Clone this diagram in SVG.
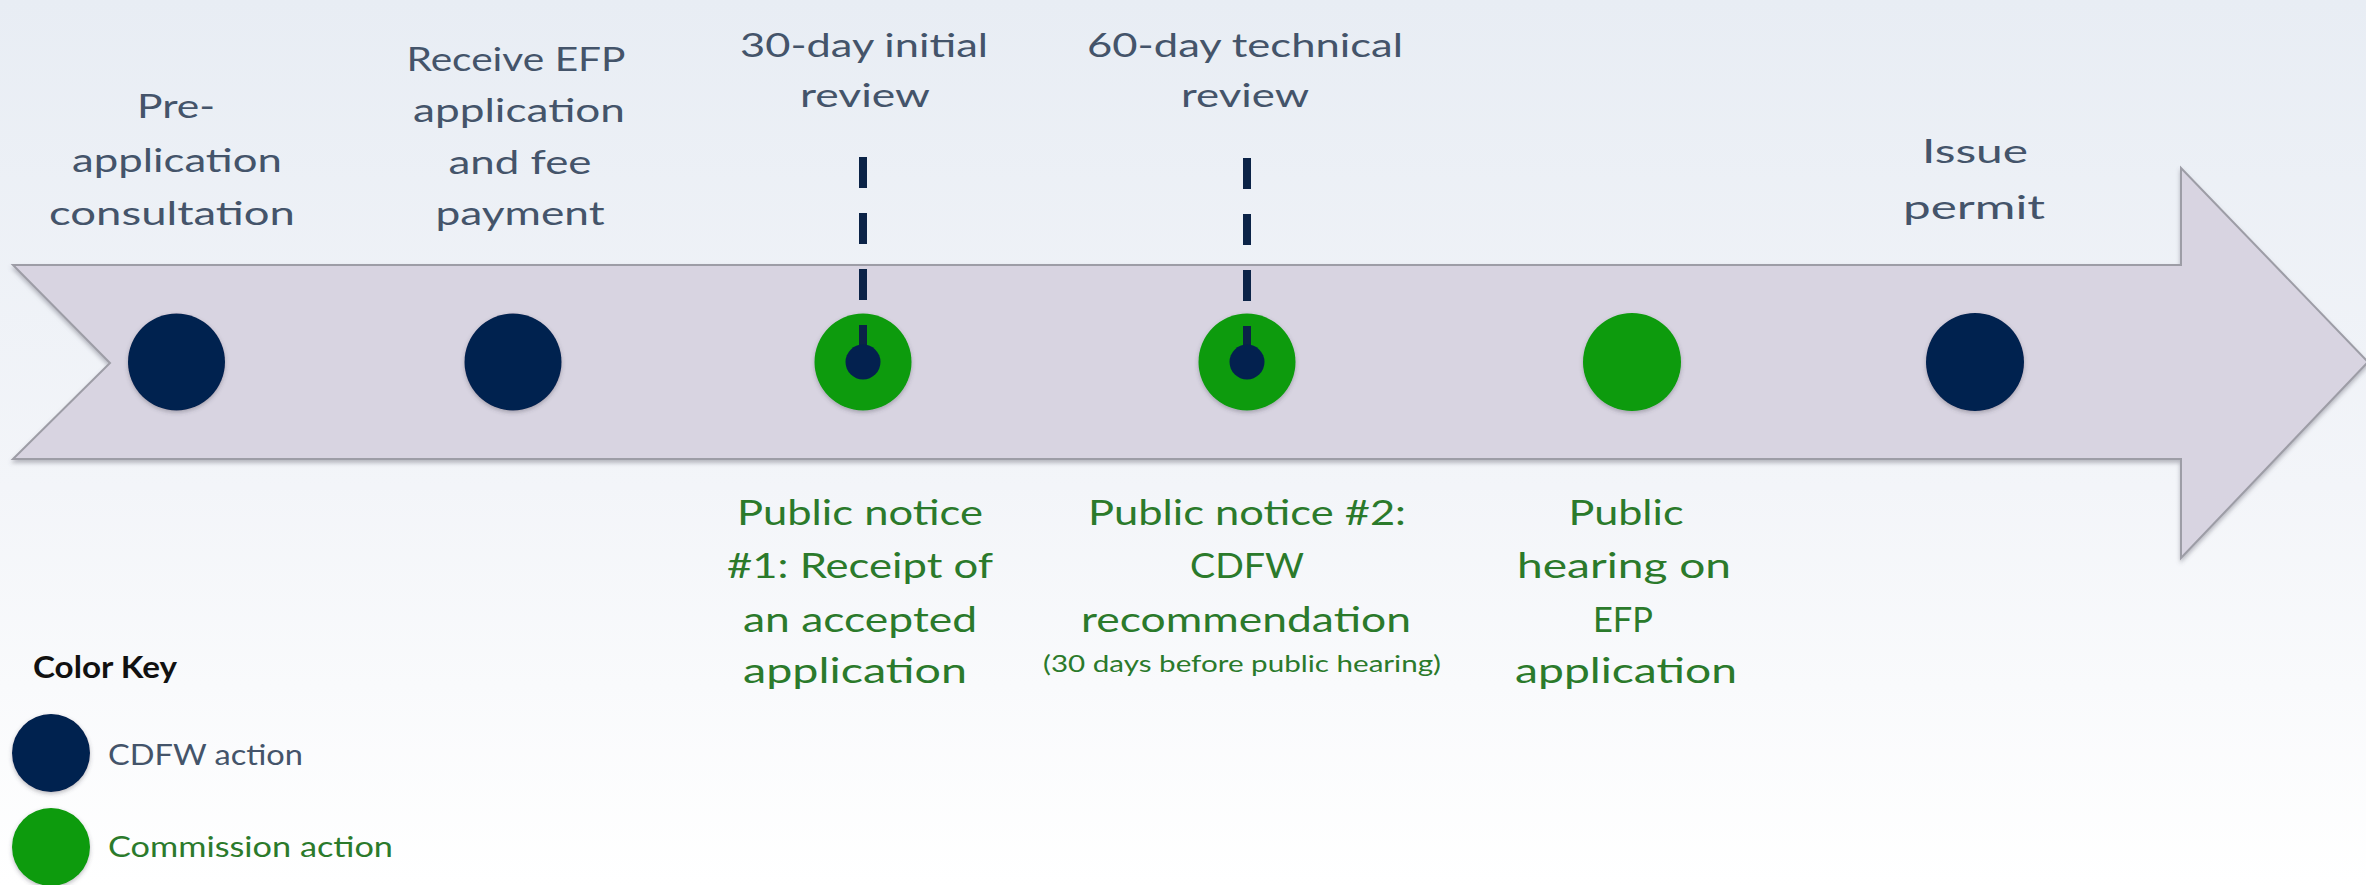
<svg xmlns="http://www.w3.org/2000/svg" width="2366" height="885" viewBox="0 0 2366 885">
  <defs>
    <linearGradient id="bg" x1="0" y1="0" x2="0" y2="1">
      <stop offset="0" stop-color="#e8edf4"/>
      <stop offset="0.55" stop-color="#f3f5f9"/>
      <stop offset="1" stop-color="#ffffff"/>
    </linearGradient>
    <filter id="arrowShadow" x="-5%" y="-20%" width="110%" height="140%">
      <feDropShadow dx="0" dy="3" stdDeviation="2" flood-color="#6b6b78" flood-opacity="0.45"/>
    </filter>
    <filter id="dotShadow" x="-30%" y="-30%" width="160%" height="170%">
      <feDropShadow dx="0" dy="2" stdDeviation="2" flood-color="#404050" flood-opacity="0.35"/>
    </filter>
  </defs>
  <style>
    text { font-family: Lato, "Liberation Sans", sans-serif; text-anchor: middle; }
    .top { font-size: 32.5px; fill: #44546a; }
    .grn { font-size: 35px; fill: #2b7a2b; }
    .small { font-size: 23.7px; fill: #2b7a2b; }
    .navy { fill: #03214f; filter: url(#dotShadow); }
    .green { fill: #0a9b0a; filter: url(#dotShadow); }
    .inner { fill: #03214f; }
    .dash { stroke: #0b2347; stroke-width: 8; stroke-dasharray: 31 25; fill: none; }
    .key { font-size: 28px; text-anchor: start; }
  </style>

  <rect x="0" y="0" width="2366" height="885" fill="url(#bg)"/>

  <g id="timeline-arrow">
    <path d="M13,265 L2181,265 L2181,168 L2368,362 L2181,558 L2181,459 L13,459 L110,363 Z" fill="#d8d4e1" stroke="#9d9da6" stroke-width="2" filter="url(#arrowShadow)"/>
  </g>

  <g id="node-pre-application">
    <circle class="navy" cx="176.5" cy="362" r="48.5"/>
    <text class="top" x="176" y="118" textLength="78" lengthAdjust="spacingAndGlyphs">Pre-</text>
    <text class="top" x="177" y="172" textLength="210" lengthAdjust="spacingAndGlyphs">application</text>
    <text class="top" x="172" y="225" textLength="246" lengthAdjust="spacingAndGlyphs">consultation</text>
  </g>

  <g id="node-receive">
    <circle class="navy" cx="513" cy="362" r="48.5"/>
    <text class="top" x="516" y="71" textLength="219" lengthAdjust="spacingAndGlyphs">Receive EFP</text>
    <text class="top" x="519" y="122" textLength="212" lengthAdjust="spacingAndGlyphs">application</text>
    <text class="top" x="520" y="174" textLength="143" lengthAdjust="spacingAndGlyphs">and fee</text>
    <text class="top" x="520" y="225" textLength="169" lengthAdjust="spacingAndGlyphs">payment</text>
  </g>

  <g id="node-30day">
    <circle class="green" cx="863" cy="362" r="48.5"/>
    <text class="top" x="864" y="57" textLength="248" lengthAdjust="spacingAndGlyphs">30-day initial</text>
    <text class="top" x="865" y="107" textLength="130" lengthAdjust="spacingAndGlyphs">review</text>
    <text class="grn" x="860" y="525" textLength="246" lengthAdjust="spacingAndGlyphs">Public notice</text>
    <text class="grn" x="860" y="578" textLength="266" lengthAdjust="spacingAndGlyphs">#1: Receipt of</text>
    <text class="grn" x="860" y="632" textLength="234" lengthAdjust="spacingAndGlyphs">an accepted</text>
    <text class="grn" x="855" y="683" textLength="224" lengthAdjust="spacingAndGlyphs">application</text>
  </g>

  <g id="node-60day">
    <circle class="green" cx="1247" cy="362" r="48.5"/>
    <text class="top" x="1245" y="57" textLength="316" lengthAdjust="spacingAndGlyphs">60-day technical</text>
    <text class="top" x="1245" y="107" textLength="128" lengthAdjust="spacingAndGlyphs">review</text>
    <text class="grn" x="1247" y="525" textLength="318" lengthAdjust="spacingAndGlyphs">Public notice #2:</text>
    <text class="grn" x="1247" y="578" textLength="114" lengthAdjust="spacingAndGlyphs">CDFW</text>
    <text class="grn" x="1246" y="632" textLength="330" lengthAdjust="spacingAndGlyphs">recommendation</text>
    <text class="small" x="1242" y="672" textLength="398" lengthAdjust="spacingAndGlyphs">(30 days before public hearing)</text>
  </g>

  <g id="node-hearing">
    <circle class="green" cx="1632" cy="362" r="49"/>
    <text class="grn" x="1626" y="525" textLength="115" lengthAdjust="spacingAndGlyphs">Public</text>
    <text class="grn" x="1624" y="578" textLength="214" lengthAdjust="spacingAndGlyphs">hearing on</text>
    <text class="grn" x="1623" y="632" textLength="60" lengthAdjust="spacingAndGlyphs">EFP</text>
    <text class="grn" x="1626" y="683" textLength="222" lengthAdjust="spacingAndGlyphs">application</text>
  </g>

  <g id="node-issue-permit">
    <circle class="navy" cx="1975" cy="362" r="49"/>
    <text class="top" x="1975" y="163" textLength="106" lengthAdjust="spacingAndGlyphs">Issue</text>
    <text class="top" x="1974" y="219" textLength="142" lengthAdjust="spacingAndGlyphs">permit</text>
  </g>

  <g id="connectors">
    <line class="dash" x1="863" y1="157" x2="863" y2="362"/>
    <line class="dash" x1="1247" y1="158" x2="1247" y2="362"/>
    <circle class="inner" cx="863" cy="362" r="17.5"/>
    <circle class="inner" cx="1247" cy="362" r="17.5"/>
  </g>

  <g id="legend">
    <text x="33" y="678" style="font-size:30px;font-weight:bold;fill:#111111;text-anchor:start" textLength="144" lengthAdjust="spacingAndGlyphs">Color Key</text>
    <circle class="navy" cx="51" cy="753" r="39"/>
    <text class="key" x="108" y="765" fill="#44546a" textLength="195" lengthAdjust="spacingAndGlyphs">CDFW action</text>
    <circle class="green" cx="51" cy="847" r="39"/>
    <text class="key" x="108" y="857" fill="#2b7a2b" textLength="285" lengthAdjust="spacingAndGlyphs">Commission action</text>
  </g>
</svg>
